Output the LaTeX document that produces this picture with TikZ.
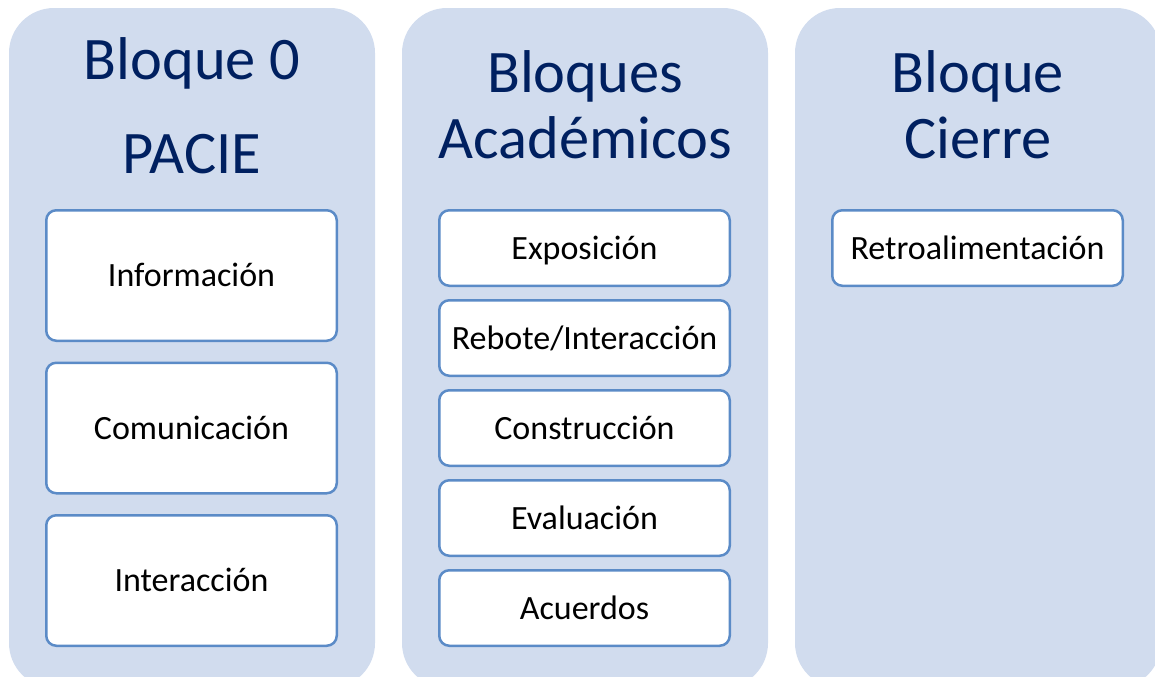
\documentclass[tikz,border=0pt]{standalone}
\usepackage{fontspec}
\setmainfont{Carlito}
\usetikzlibrary{positioning}

\definecolor{panelblue}{HTML}{D1DCEE}
\definecolor{boxline}{HTML}{5B8BC7}
\definecolor{titlenavy}{HTML}{002060}

\tikzset{
  panel/.style={fill=panelblue, rounded corners=22.5pt},
  item/.style={draw=boxline, line width=1.25pt, fill=white, rounded corners=5pt,
    minimum width=145.25pt, inner sep=0pt, outer sep=0pt,
    text height=11pt, text depth=0pt,
    font=\fontsize{17}{20}\selectfont},
  bigitem/.style={item, minimum height=65.25pt},
  smallitem/.style={item, minimum height=37.75pt},
  blocktitle/.style={text=titlenavy, anchor=base, inner sep=0pt,
    font=\fontsize{30.2}{30}\selectfont}
}

\begin{document}
\begin{tikzpicture}[x=0.5pt,y=-0.5pt]
	\useasboundingbox (0,0) rectangle (1155,676);
	\clip (0,0) rectangle (1155,676);

	% panels
	\foreach \x in {9,402,795}{
	  \fill[panel] (\x,8) rectangle ++(366,680);
	}

	% Bloque 0
	\node[blocktitle] (titA1) at (192,79) {Bloque 0};
	\node[blocktitle] (titA2) at (192,173) {PACIE};
	\node[bigitem] (info) at (191.5,275.5) {Información};
	\node[bigitem, below=11pt of info] (comun) {Comunicación};
	\node[bigitem, below=11pt of comun] (inter) {Interacción};

	% Bloques academicos
	\node[blocktitle] (titB1) at (585,92) {Bloques};
	\node[blocktitle] (titB2) at (585,158.5) {Académicos};
	\node[smallitem] (expo) at (584.5,248) {Exposición};
	\node[smallitem, below=7.25pt of expo] (rebote) {Rebote/Interacción};
	\node[smallitem, below=7.25pt of rebote] (constr) {Construcción};
	\node[smallitem, below=7.25pt of constr] (eval) {Evaluación};
	\node[smallitem, below=7.25pt of eval] (acuer) {Acuerdos};

	% Bloque cierre
	\node[blocktitle] (titC1) at (978,92) {Bloque};
	\node[blocktitle] (titC2) at (978,158.5) {Cierre};
	\node[smallitem] (retro) at (977.5,248) {Retroalimentación};
\end{tikzpicture}
\end{document}
